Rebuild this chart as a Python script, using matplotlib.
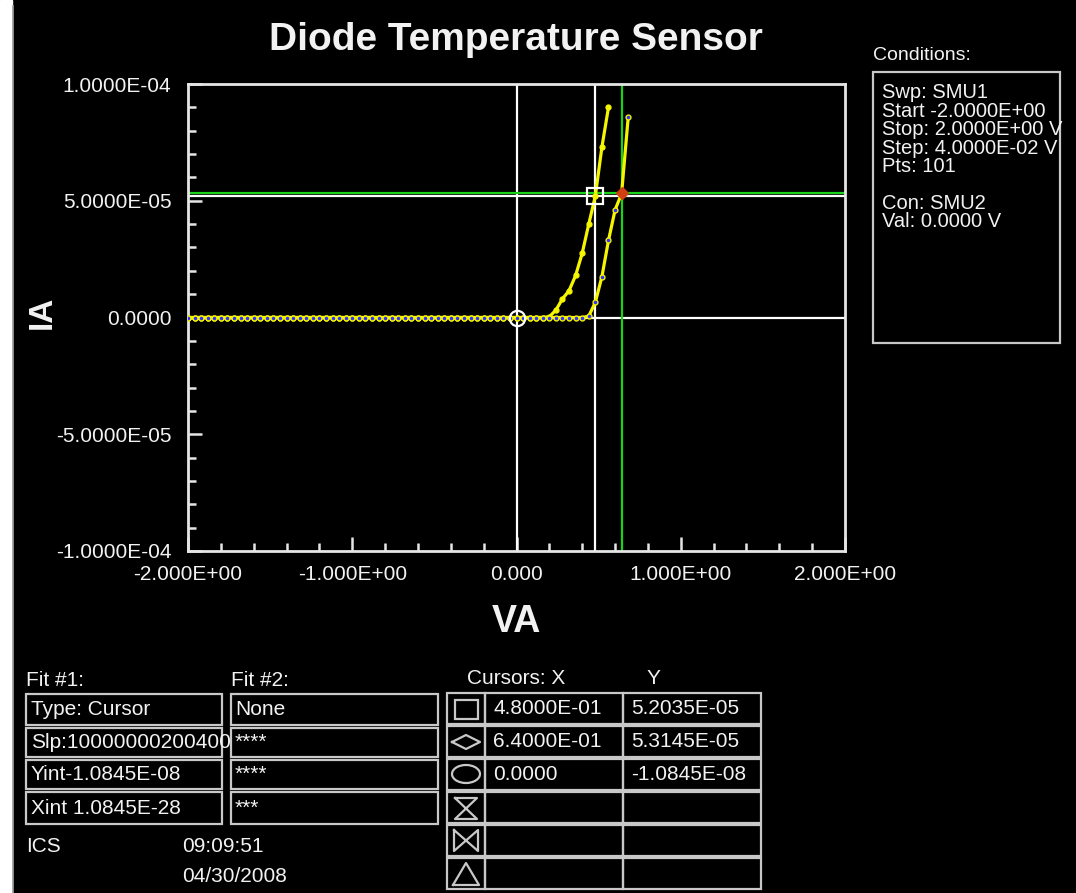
import numpy as np
import matplotlib
matplotlib.use("Agg")
import matplotlib.pyplot as plt
from matplotlib.patches import Rectangle, Ellipse
from matplotlib.lines import Line2D
from matplotlib.ticker import MultipleLocator, FixedLocator

W, H = 1076, 893
FG = "#f2f2f2"
BOX = "#c8c8c8"
GREEN = "#19d219"
plt.rcParams["font.family"] = ["Liberation Sans", "DejaVu Sans"]

# Sweep: SMU1 from -2 V in 0.04 V steps (curves stop at compliance)
va1 = np.round(np.arange(-2.0, 0.5601, 0.04), 2)
ia1 = [0.0] * 55 + [3e-7, 3.2e-6, 8.0e-6, 1.15e-5, 1.8e-5, 2.75e-5, 4.0e-5, 5.2035e-5, 7.3e-5, 9.0e-5]
va2 = np.round(np.arange(-2.0, 0.6801, 0.04), 2)
ia2 = [0.0] * 61 + [6e-7, 6.5e-6, 1.75e-5, 3.3e-5, 4.6e-5, 5.3145e-5, 8.57e-5]

# cursors
cur_x = [0.48, 0.64, 0.0]
cur_y = [5.2035e-5, 5.3145e-5, -1.0845e-8]

xticks = [-2.0, -1.0, 0.0, 1.0, 2.0]
xticklabels = ["-2.000E+00", "-1.000E+00", "0.000", "1.000E+00", "2.000E+00"]
yticks = [-1e-4, -5e-5, 0.0, 5e-5, 1e-4]
yticklabels = ["-1.0000E-04", "-5.0000E-05", "0.0000", "5.0000E-05", "1.0000E-04"]

conditions = ["Swp: SMU1", "Start -2.0000E+00", "Stop: 2.0000E+00 V", "Step: 4.0000E-02 V",
              "Pts: 101", "", "Con: SMU2", "Val: 0.0000 V"]
fit1 = ["Type: Cursor", "Slp:10000000200400", "Yint-1.0845E-08", "Xint 1.0845E-28"]
fit2 = ["None", "****", "****", "***"]
cursor_rows = [("4.8000E-01", "5.2035E-05"), ("6.4000E-01", "5.3145E-05"),
               ("0.0000", "-1.0845E-08"), ("", ""), ("", ""), ("", "")]

fig = plt.figure(figsize=(W / 100, H / 100), dpi=100, facecolor="black")


def fx(x):
    return x / W


def fy(y):
    return 1 - y / H


def ftext(x, y, s, size=15, ha="left", va="center", **kw):
    fig.text(fx(x), fy(y), s, fontsize=size, color=FG, ha=ha, va=va, **kw)


def frect(x0, y0, x1, y1, color=BOX, lw=1.6):
    fig.add_artist(Rectangle((fx(x0), fy(y1)), fx(x1) - fx(x0), fy(y0) - fy(y1),
                             transform=fig.transFigure, fill=False, edgecolor=color, lw=lw))


def fline(xs, ys, color=BOX, lw=1.6):
    fig.add_artist(Line2D([fx(v) for v in xs], [fy(v) for v in ys],
                          transform=fig.transFigure, color=color, lw=lw))


# white strip on the left edge
fig.add_artist(Rectangle((0, 0), fx(12), 1, transform=fig.transFigure, color="white"))
fline([13, 13], [6, 893], color="#9a9a9a", lw=1.2)

# main plot
ax = fig.add_axes([fx(188), fy(551), fx(845) - fx(188), fy(84) - fy(551)])
ax.set_facecolor("black")
ax.set_xlim(-2, 2)
ax.set_ylim(-1e-4, 1e-4)
for s in ax.spines.values():
    s.set_color("#e6e6e6")
    s.set_linewidth(2)

ax.axvline(0, color="white", lw=1.6)
ax.axhline(0, color="white", lw=1.6)
ax.axvline(cur_x[0], color="white", lw=1.6)
ax.axhline(cur_y[0], color="white", lw=1.6)
ax.axvline(cur_x[1], color=GREEN, lw=1.6)
ax.axhline(cur_y[1], color=GREEN, lw=1.6)

ax.plot(va1, ia1, color="#f5f500", lw=2.3, marker="o", ms=3.5, zorder=3)
ax.plot(va2, ia2, color="#f5f500", lw=2.3, marker="o", ms=3.5, zorder=3)
ax.plot(va2, ia2, ls="none", marker=".", ms=3, color="#3030ff", zorder=4)

ax.plot(cur_x[0], cur_y[0], marker="s", ms=12, mfc="none", mec="white", mew=1.6, zorder=5)
ax.plot(cur_x[1], cur_y[1], marker="D", ms=6, mfc="#d04010", mec="#d04010", zorder=5)
ax.plot(cur_x[2], cur_y[2], marker="o", ms=11, mfc="none", mec="white", mew=1.6, zorder=5)

ax.xaxis.set_major_locator(FixedLocator(xticks))
ax.xaxis.set_minor_locator(MultipleLocator(0.2))
ax.yaxis.set_major_locator(FixedLocator(yticks))
ax.yaxis.set_minor_locator(MultipleLocator(1e-5))
ax.set_xticklabels(xticklabels)
ax.set_yticklabels(yticklabels)
ax.tick_params(which="both", direction="in", colors="#e6e6e6", labelcolor=FG,
               labelsize=15, top=False, right=False)
ax.tick_params(which="major", length=10, width=1.8)
ax.tick_params(which="minor", length=6, width=1.8)
ax.tick_params(axis="x", pad=10)
ax.tick_params(axis="y", pad=12)

ftext(516, 40, "Diode Temperature Sensor", size=28, ha="center", fontweight="bold")
ftext(516, 622, "VA", size=27, ha="center", fontweight="bold")
ftext(42, 312, "IA", size=24, ha="center", fontweight="bold", rotation=90)

# conditions panel
ftext(873, 55, "Conditions:", size=14)
frect(873, 72, 1060, 343)
for i, line in enumerate(conditions):
    ftext(882, 93 + i * 18.4, line, size=14.5)

# fit tables
ftext(26, 680, "Fit #1:", size=15)
ftext(231, 680, "Fit #2:", size=15)
rows = [(694, 725), (728, 757), (760, 789), (792, 824)]
for (y0, y1), a, b in zip(rows, fit1, fit2):
    frect(26, y0, 222, y1)
    frect(231, y0, 438, y1)
    ftext(31, (y0 + y1) / 2, a, size=15)
    ftext(235, (y0 + y1) / 2, b, size=15)

ftext(26, 847, "ICS", size=15)
ftext(182, 847, "09:09:51", size=15)
ftext(182, 877, "04/30/2008", size=15)

# cursor table
ftext(467, 679, "Cursors: X", size=15)
ftext(653, 679, "Y", size=15, ha="center")
cols = [447, 485, 623, 761]
for i, (cx, cy) in enumerate(cursor_rows):
    y0 = 693 + i * 33
    y1 = y0 + 31
    for c0, c1 in zip(cols[:-1], cols[1:]):
        frect(c0, y0, c1, y1)
    ftext(493, (y0 + y1) / 2, cx, size=15)
    ftext(631, (y0 + y1) / 2, cy, size=15)

# cursor symbols
frect(455, 700, 478, 719)
fline([452, 466, 480, 466, 452], [742, 735, 742, 749, 742])
fig.add_artist(Ellipse((fx(466), fy(774)), fx(28), 18 / H, transform=fig.transFigure,
                       fill=False, edgecolor=BOX, lw=1.6))
fline([455, 477, 455, 477, 455], [798, 798, 819, 819, 798])
fline([454, 454, 478, 478, 454], [830, 851, 830, 851, 830])
fline([453, 466, 479, 453], [885, 863, 885, 885])

fig.savefig("out.png", dpi=100, facecolor="black")
